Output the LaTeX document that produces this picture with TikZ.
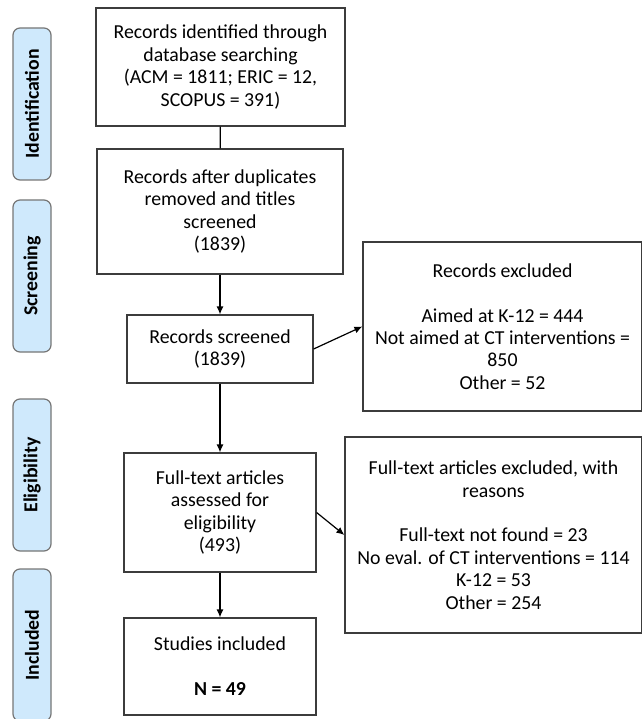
\documentclass[tikz,border=0pt]{standalone}
\usepackage{fontspec}
\setmainfont{Carlito}
\usepackage{tikz}
\usetikzlibrary{arrows.meta}
\definecolor{stagefill}{RGB}{207,233,252}
\definecolor{stageline}{RGB}{118,118,118}
\definecolor{boxline}{RGB}{60,60,60}
\tikzset{%
  every box/.style={
    draw=boxline,
    line width=1.2pt,
    align=center,
    inner sep=2pt,
    font=\fontsize{19.8}{22.4}\selectfont
  },
  stage/.style={
    draw=stageline,
    line width=1.2pt,
    fill=stagefill,
    rounded corners=7pt,
    rotate=90,
    minimum width=152pt,
    minimum height=38pt,
    font=\fontsize{19.8}{22.4}\selectfont\bfseries
  },
}

\begin{document}
\begin{tikzpicture}[x=1pt, y=-1pt, >={Latex[length=8pt,width=7pt]}, line width=1.2pt]
        \useasboundingbox (0,0) rectangle (641,719);

        \foreach \s/\c in {Identification/104, Screening/276, Eligibility/475, Included/645}
          \node [stage] (stage-\s) at (32,\c) {\s};

        \node [every box, minimum width=249pt, minimum height=118pt] (identified) at (220.5,67)
          {Records identified through\\database searching\\(ACM = 1811; ERIC = 12,\\SCOPUS = 391)};
        \node [every box, minimum width=246pt, minimum height=125pt] (duplicates) at (220,211.5)
          {Records after duplicates\\removed and titles\\screened\\(1839)};
        \node [every box, minimum width=186pt, minimum height=68pt] (screened) at (220,349)
          {Records screened\\(1839)};
        \node [every box, minimum width=192pt, minimum height=119pt] (fulltext) at (220,512.5)
          {Full-text articles\\assessed for\\eligibility\\(493)};
        \node [every box, minimum width=192pt, minimum height=97pt] (included) at (220,666.5)
          {Studies included\\[22.4pt]\textbf{N = 49}};

        \node [every box, minimum width=279pt, minimum height=169pt] (excluded) at (502.5,326.5)
          {Records excluded\\[22.4pt]Aimed at K-12 = 444\\Not aimed at CT interventions =\\850\\Other = 52};
        \node [every box, minimum width=297pt, minimum height=196pt] (ftexcluded) at (493.5,535)
          {Full-text articles excluded, with\\reasons\\[22.4pt]Full-text not found = 23\\No eval. of CT interventions = 114\\K-12 = 53\\Other = 254};

        \draw (identified) -- (duplicates);
        \foreach \a/\b in {duplicates/screened, screened/fulltext, fulltext/included}
          \draw [->] (\a) -- (\b);

        \draw [->] (screened.east) -- (excluded.west);
        \draw [->] (fulltext.east) -- (ftexcluded.west);
\end{tikzpicture}
\end{document}
